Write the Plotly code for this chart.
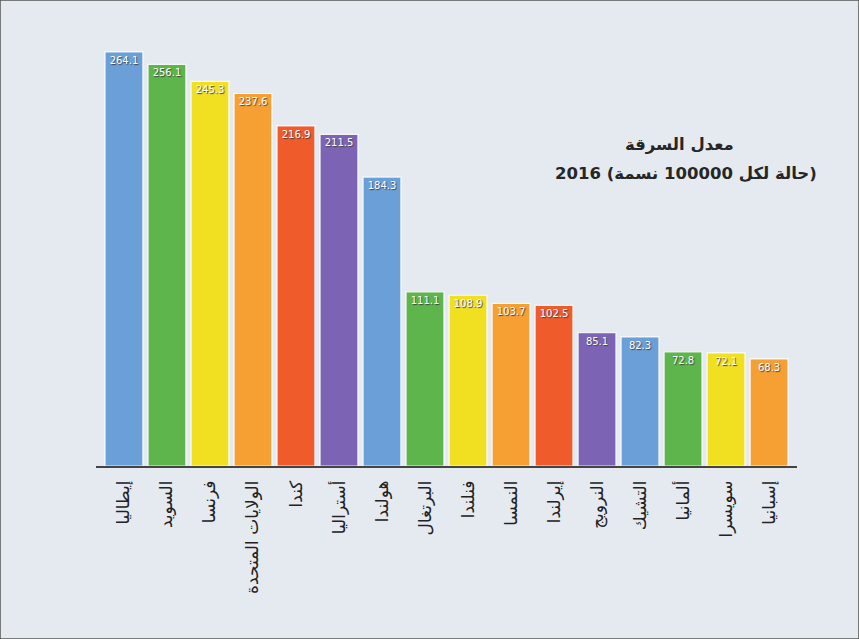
import plotly.graph_objects as go

# Theft rate per 100,000 inhabitants, 2016
countries = ["إيطاليا", "السويد", "فرنسا", "الولايات المتحدة", "كندا", "أستراليا",
             "هولندا", "البرتغال", "فنلندا", "النمسا", "إيرلندا", "النرويج",
             "التشيك", "ألمانيا", "سويسرا", "إسبانيا"]
rates = [264.1, 256.1, 245.3, 237.6, 216.9, 211.5, 184.3, 111.1, 108.9,
         103.7, 102.5, 85.1, 82.3, 72.8, 72.1, 68.3]
palette = ["#6a9fd8", "#5db54b", "#f1df22", "#f6a033", "#ef5b2b", "#7d63b4"]
bar_colors = [palette[i % len(palette)] for i in range(len(rates))]

title_line1 = "معدل السرقة"
title_line2 = "2016 (حالة لكل 100000 نسمة)"

fig = go.Figure(go.Bar(
    x=list(range(len(rates))),
    y=rates,
    marker=dict(color=bar_colors, line=dict(color="rgba(255,255,255,0.85)", width=1.2)),
    text=[f"{v:.1f}" for v in rates],
    textposition="inside",
    insidetextanchor="end",
    textangle=0,
    textfont=dict(family="DejaVu Sans", size=10, color="white",
                  shadow="1px 1px 1px #444"),
    cliponaxis=False,
))

fig.update_layout(
    width=859, height=639,
    margin=dict(l=96, r=62, t=27, b=173),
    paper_bgcolor="#e5eaf0",
    plot_bgcolor="rgba(0,0,0,0)",
    bargap=0.12,
    showlegend=False,
    font=dict(family="DejaVu Sans", color="#222"),
    xaxis=dict(
        range=[-0.65, 15.65],
        tickmode="array",
        tickvals=list(range(len(countries))),
        ticktext=countries,
        tickangle=-90,
        tickfont=dict(size=17, color="#222"),
        ticklabelstandoff=6,
        showgrid=False, zeroline=False,
        showline=True, linecolor="#444", linewidth=1.5,
        ticks="",
    ),
    yaxis=dict(range=[0, 280], visible=False),
    annotations=[
        dict(text=f"<b>{title_line1}</b>", x=0.832, y=0.731,
             xref="paper", yref="paper", showarrow=False,
             font=dict(size=16.5, color="#262626"), xanchor="center", yanchor="middle"),
        dict(text=f"<b>{title_line2}</b>", x=0.842, y=0.667,
             xref="paper", yref="paper", showarrow=False,
             font=dict(size=16.5, color="#262626"), xanchor="center", yanchor="middle"),
    ],
    shapes=[dict(type="rect", xref="paper", yref="paper", x0=-96/701, x1=1 + 62/701,
                 y0=-173/439, y1=1 + 27/439, line=dict(color="#555", width=1.5),
                 fillcolor="rgba(0,0,0,0)", layer="above")],
)

fig.write_html("out.html")
